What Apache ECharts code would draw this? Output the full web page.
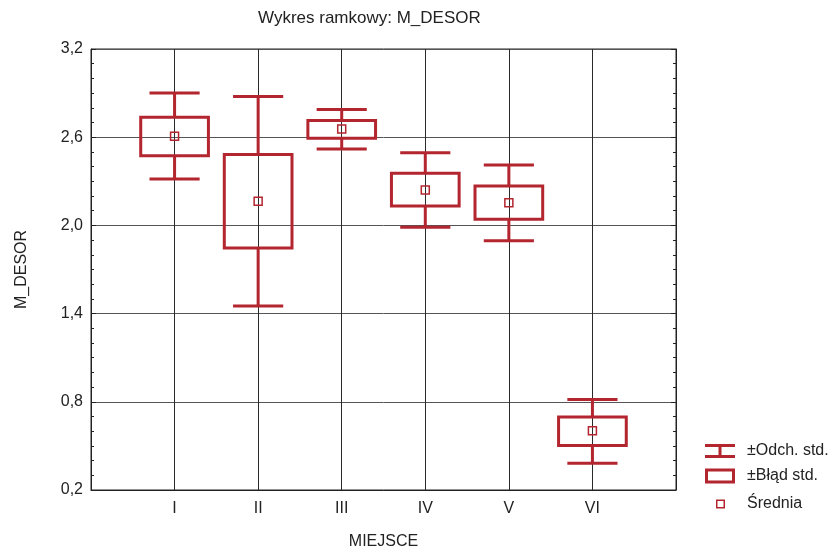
<!DOCTYPE html>
<html>
<head>
<meta charset="utf-8">
<script src="https://cdn.jsdelivr.net/npm/echarts@6/dist/echarts.min.js"></script>
<style>
  html, body { margin: 0; padding: 0; background: #fff; }
  #chart { width: 835px; height: 546px; }
</style>
</head>
<body>
<div id="chart"></div>
<script>
// values
var categories = ['I', 'II', 'III', 'IV', 'V', 'VI'];
var means  = [2.607, 2.164, 2.655, 2.241, 2.154, 0.603];
var seLow  = [2.473, 1.846, 2.593, 2.132, 2.041, 0.503];
var seHigh = [2.736, 2.482, 2.713, 2.355, 2.268, 0.696];
var sdLow  = [2.316, 1.452, 2.520, 1.987, 1.895, 0.382];
var sdHigh = [2.900, 2.877, 2.788, 2.495, 2.411, 0.816];
var yTicks = [0.2, 0.8, 1.4, 2.0, 2.6, 3.2];

var RED = '#b3252f';
var FONT = 'Liberation Sans, Arial, sans-serif';

var whiskerData = categories.map(function (c, i) {
	return [i + 1, sdLow[i], sdHigh[i], seLow[i], seHigh[i]];
});
var boxData = categories.map(function (c, i) {
	return [i + 1, seLow[i], seHigh[i]];
});
var meanData = categories.map(function (c, i) {
	return [i + 1, means[i]];
});

var chart = echarts.init(document.getElementById('chart'));

function lineEl(x1, y1, x2, y2, w) {
	return {
		type: 'line',
		shape: { x1: x1, y1: y1, x2: x2, y2: y2 },
		style: { stroke: RED, lineWidth: w }
	};
}

var legendText = { fontFamily: FONT, fontSize: 16, color: '#222' };

var option = {
	animation: false,
	title: {
		text: 'Wykres ramkowy: M_DESOR',
		left: 258,
		top: 10,
		padding: 0,
		textStyle: { fontFamily: FONT, fontSize: 17, fontWeight: 'normal', color: '#222' }
	},
	legend: [
		{
			left: 705, top: 443, padding: 0,
			itemWidth: 30, itemHeight: 14,
			textStyle: Object.assign({ padding: [0, 0, 0, 7] }, legendText),
			data: [{ name: '±Odch. std.', icon: 'path://M0 0H30V3H0Z M13.5 3H16.5V11H13.5Z M0 11H30V14H0Z', itemStyle: { color: RED } }]
		},
		{
			left: 705, top: 468, padding: 0,
			itemWidth: 30, itemHeight: 15,
			textStyle: Object.assign({ padding: [0, 0, 0, 7] }, legendText),
			data: [{ name: '±Błąd std.', icon: 'path://M0 0H30V15H0Z M3 3V12H27V3Z', itemStyle: { color: RED } }]
		},
		{
			left: 716, top: 496, padding: 0,
			itemWidth: 9, itemHeight: 9,
			textStyle: Object.assign({ padding: [0, 0, 0, 17] }, legendText),
			data: [{ name: 'Średnia', icon: 'path://M0 0H9V9H0Z M1.5 1.5V7.5H7.5V1.5Z', itemStyle: { color: RED } }]
		}
	],
	grid: {
		left: 91, right: 159, top: 49, bottom: 56,
		outerBoundsMode: 'none',
		containLabel: false,
		show: true, borderColor: '#222', borderWidth: 1
	},
	xAxis: {
		type: 'value',
		min: 0, max: categories.length + 1, interval: 1,
		name: 'MIEJSCE',
		nameLocation: 'middle',
		nameGap: 44,
		nameTextStyle: { fontFamily: FONT, fontSize: 16, color: '#222' },
		axisLine: { lineStyle: { color: '#222' } },
		axisTick: { show: false },
		axisLabel: {
			fontFamily: FONT, fontSize: 16, color: '#222', margin: 11,
			formatter: function (v) { return categories[v - 1] || ''; }
		},
		splitLine: { show: true, lineStyle: { color: '#2a2a2a', width: 1 } }
	},
	yAxis: [
		{
			type: 'value',
			min: yTicks[0], max: yTicks[yTicks.length - 1], interval: 0.6,
			name: 'M_DESOR',
			nameLocation: 'middle',
			nameGap: 61,
			nameTextStyle: { fontFamily: FONT, fontSize: 16, color: '#222' },
			axisLine: { show: true, lineStyle: { color: '#222' } },
			axisTick: { show: true, inside: true, length: 5, lineStyle: { color: '#222' } },
			minorTick: { show: true, splitNumber: 6, length: 3, lineStyle: { color: '#222' } },
			axisLabel: {
				fontFamily: FONT, fontSize: 16, color: '#222', margin: 8,
				formatter: function (v) { return v.toFixed(1).replace('.', ','); }
			},
			splitLine: { show: true, lineStyle: { color: '#555', width: 1 } }
		},
		{
			type: 'value',
			position: 'right',
			min: yTicks[0], max: yTicks[yTicks.length - 1], interval: 0.6,
			axisLine: { show: true, lineStyle: { color: '#222' } },
			axisTick: { show: true, inside: true, length: 5, lineStyle: { color: '#222' } },
			minorTick: { show: true, splitNumber: 6, length: 3, lineStyle: { color: '#222' } },
			axisLabel: { show: false },
			splitLine: { show: false }
		}
	],
	series: [
		{
			name: '±Odch. std.',
			type: 'custom',
			itemStyle: { color: RED },
			data: whiskerData,
			renderItem: function (params, api) {
				var x = api.value(0);
				var lo = api.coord([x, api.value(1)]);
				var hi = api.coord([x, api.value(2)]);
				var bLo = api.coord([x, api.value(3)]);
				var bHi = api.coord([x, api.value(4)]);
				var half = api.size([0.6, 0])[0] / 2;
				return {
					type: 'group',
					children: [
						lineEl(hi[0], hi[1], bHi[0], bHi[1], 3),
						lineEl(bLo[0], bLo[1], lo[0], lo[1], 3),
						lineEl(hi[0] - half, hi[1], hi[0] + half, hi[1], 3),
						lineEl(lo[0] - half, lo[1], lo[0] + half, lo[1], 3)
					]
				};
			}
		},
		{
			name: '±Błąd std.',
			type: 'custom',
			itemStyle: { color: RED },
			data: boxData,
			renderItem: function (params, api) {
				var x = api.value(0);
				var lo = api.coord([x, api.value(1)]);
				var hi = api.coord([x, api.value(2)]);
				var w = api.size([0.81, 0])[0];
				return {
					type: 'rect',
					shape: { x: lo[0] - w / 2, y: hi[1], width: w, height: lo[1] - hi[1] },
					style: { fill: 'none', stroke: RED, lineWidth: 3 }
				};
			}
		},
		{
			name: 'Średnia',
			type: 'custom',
			itemStyle: { color: RED },
			data: meanData,
			renderItem: function (params, api) {
				var p = api.coord([api.value(0), api.value(1)]);
				return {
					type: 'rect',
					shape: { x: p[0] - 4, y: p[1] - 4, width: 8, height: 8 },
					style: { fill: 'none', stroke: RED, lineWidth: 1.5 }
				};
			}
		}
	]
};

chart.setOption(option);
</script>
</body>
</html>
